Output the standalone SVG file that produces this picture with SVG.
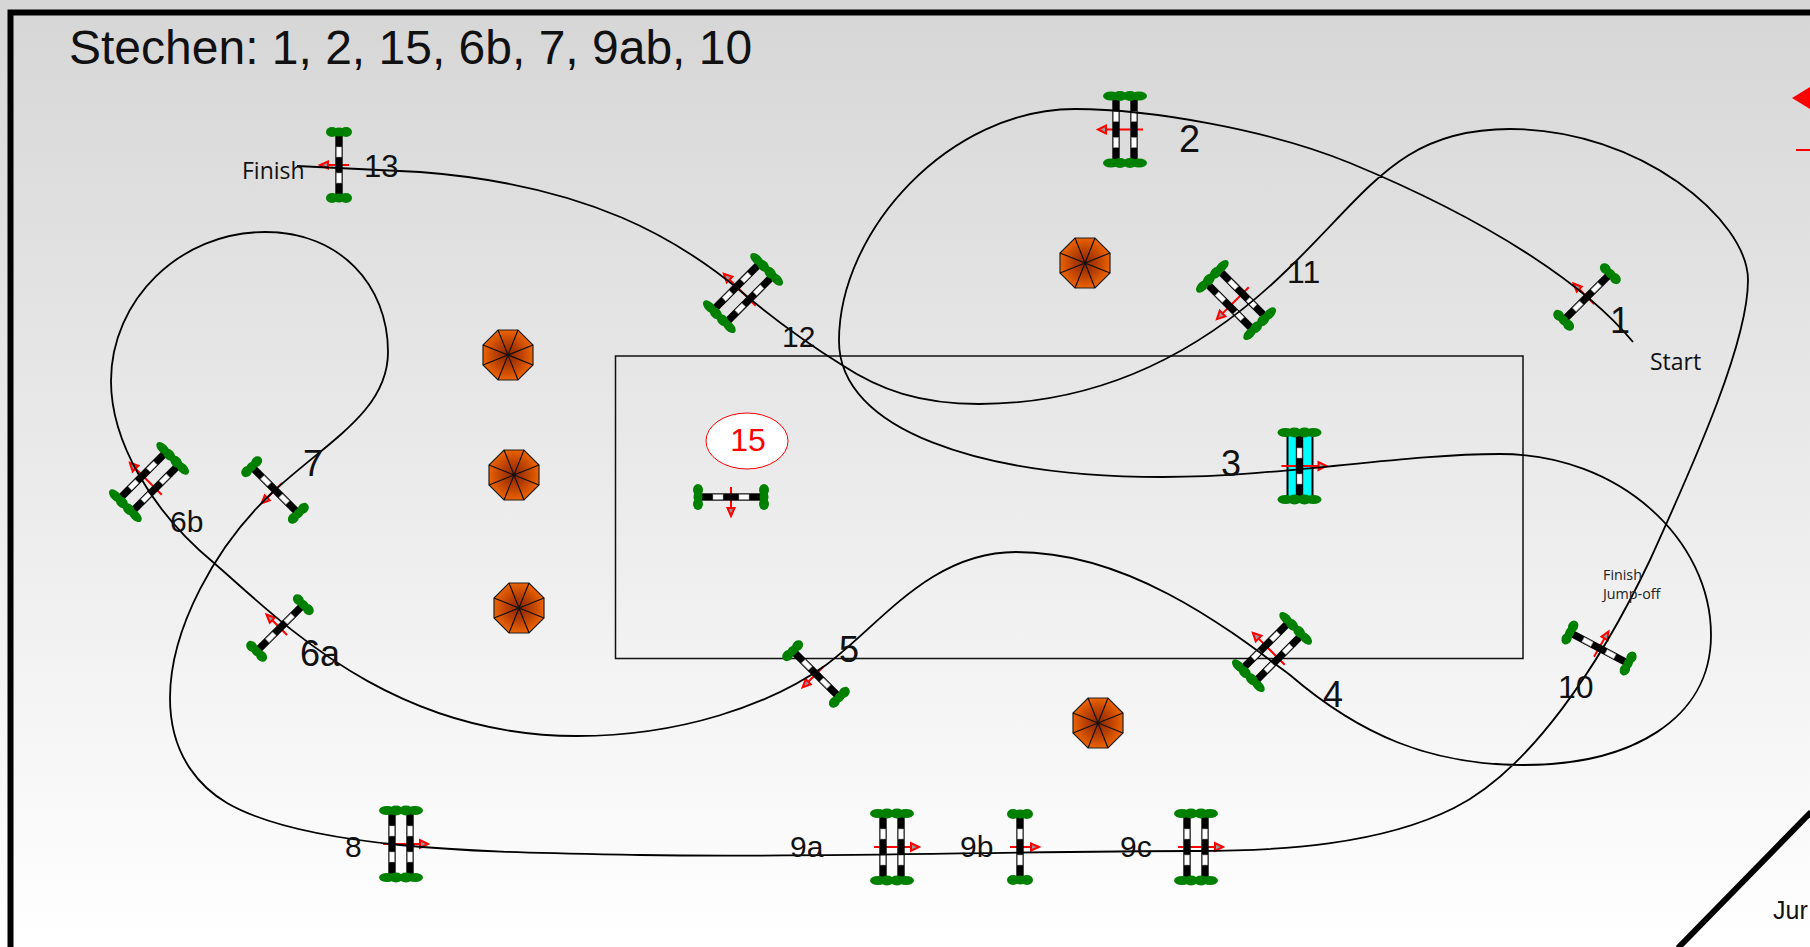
<svg xmlns="http://www.w3.org/2000/svg" xmlns:xlink="http://www.w3.org/1999/xlink" width="1810" height="947" viewBox="0 0 1810 947">
<style>
.num{font-family:"Liberation Sans",Arial,sans-serif;font-size:36px;fill:#111}
.sm{font-family:"Open Sans","Noto Sans",sans-serif;font-size:23px;fill:#111}
.xs{font-family:"Open Sans","Noto Sans",sans-serif;font-size:14.300px;fill:#222}
.bl{fill:#008000}
.ar{stroke:#f00;stroke-width:2;fill:none}
.hd{stroke:#f00;stroke-width:2;fill:#999}
.sp{stroke:#111;stroke-width:1.200;fill:none}
</style>
<defs>
<linearGradient id="bg" x1="0" y1="0" x2="0" y2="1"><stop offset="0" stop-color="#d6d6d6"/><stop offset="1" stop-color="#ffffff"/></linearGradient>
<radialGradient id="oct"><stop offset="0" stop-color="#8a2400"/><stop offset="0.5" stop-color="#b84000"/><stop offset="1" stop-color="#ec6200"/></radialGradient>
<g id="bar"><rect x="-3.700" y="-31" width="7.400" height="62" fill="#000"/><rect x="-2.500" y="-18" width="5" height="10" fill="#fff" stroke="#999" stroke-width=".6"/><rect x="-2.500" y="8" width="5" height="10" fill="#fff" stroke="#999" stroke-width=".6"/></g>
<g id="blobS" class="bl"><ellipse cx="-7" cy="0" rx="6" ry="5"/><ellipse cx="0" cy="0" rx="6" ry="4.500"/><ellipse cx="7" cy="0" rx="6" ry="5"/></g>
<g id="blobD" class="bl"><ellipse cx="-14" cy="0" rx="8" ry="4.500"/><ellipse cx="-5" cy="0" rx="7" ry="5"/><ellipse cx="5" cy="0" rx="7" ry="5"/><ellipse cx="14" cy="0" rx="8" ry="4.500"/></g>
<g id="arS"><path class="ar" d="M-10 0H12"/><path class="hd" d="M19 0L11 -3.500V3.500Z"/></g>
<g id="arD"><path class="ar" d="M-18 0H20"/><path class="hd" d="M27 0L19 -4V4Z"/></g>
<g id="single"><use href="#bar"/><use href="#blobS" y="-33"/><use href="#blobS" y="33"/></g>
<g id="double"><use href="#bar" x="-9"/><use href="#bar" x="9"/><use href="#blobD" y="-33.500"/><use href="#blobD" y="33.500"/></g>
<g id="octagon"><path d="M-10 -25H10L25 -10V10L10 25H-10L-25 10V-10Z" fill="url(#oct)" stroke="#222" stroke-width="1.200"/><path class="sp" d="M-10 -25L10 25M10 -25L-10 25M-25 -10L25 10M25 -10L-25 10"/></g>
</defs>
<rect id="background" width="1810" height="947" fill="url(#bg)"/>
<path id="frame" d="M10.500 947V12.500H1810" fill="none" stroke="#000" stroke-width="6"/>
<path id="corner" d="M1678 948L1811 812" fill="none" stroke="#000" stroke-width="6"/>
<rect id="ring" x="615.500" y="356" width="907.500" height="302.500" fill="none" stroke="#111" stroke-width="1.500"/>
<g id="jumps">
<g id="jump-1" transform="translate(1587 297)"><use href="#arS" transform="rotate(225)"/><use href="#single" transform="rotate(45)"/></g>
<g id="jump-2" transform="translate(1125 129.500)"><use href="#arD" transform="rotate(180)"/><use href="#double"/></g>
<g id="jump-3" transform="translate(1299.500 466)"><rect x="-12" y="-31" width="25" height="62" fill="#0ff" stroke="#000" stroke-width="2"/><use href="#arD"/><use href="#bar"/><use href="#blobD" y="-33.500"/><use href="#blobD" y="33.500"/></g>
<g id="jump-4" transform="translate(1272 652)"><use href="#arD" transform="rotate(225)"/><use href="#double" transform="rotate(45)"/></g>
<g id="jump-5" transform="translate(816 674)"><use href="#arS" transform="rotate(135)"/><use href="#single" transform="rotate(-45)"/></g>
<g id="jump-6a" transform="translate(280 628)"><use href="#arS" transform="rotate(225)"/><use href="#single" transform="rotate(45)"/></g>
<g id="jump-6b" transform="translate(149 482)"><use href="#arD" transform="rotate(225)"/><use href="#double" transform="rotate(45)"/></g>
<g id="jump-7" transform="translate(275 490)"><use href="#arS" transform="rotate(135)"/><use href="#single" transform="rotate(-45)"/></g>
<g id="jump-8" transform="translate(401 844)"><use href="#arD"/><use href="#double"/></g>
<g id="jump-9a" transform="translate(892 847)"><use href="#arD"/><use href="#double"/></g>
<g id="jump-9b" transform="translate(1020 847)"><use href="#arS"/><use href="#single"/></g>
<g id="jump-9c" transform="translate(1196 847)"><use href="#arD"/><use href="#double"/></g>
<g id="jump-10" transform="translate(1599 648)"><use href="#arS" transform="rotate(300)"/><use href="#single" transform="rotate(-62)"/></g>
<g id="jump-11" transform="translate(1236 300)"><use href="#arD" transform="rotate(135)"/><use href="#double" transform="rotate(-45)"/></g>
<g id="jump-12" transform="translate(743 293)"><use href="#arD" transform="rotate(225)"/><use href="#double" transform="rotate(45)"/></g>
<g id="jump-13" transform="translate(339 165)"><use href="#arS" transform="rotate(180)"/><use href="#single"/></g>
<g id="jump-15" transform="translate(731 497)"><use href="#arS" transform="rotate(90)"/><use href="#single" transform="rotate(90)"/></g>
</g>
<g id="obstacles">
<use id="oct-1" href="#octagon" x="1085" y="263"/>
<use id="oct-2" href="#octagon" x="508" y="355"/>
<use id="oct-3" href="#octagon" x="514" y="475"/>
<use id="oct-4" href="#octagon" x="519" y="608"/>
<use id="oct-5" href="#octagon" x="1098" y="723"/>
</g>
<g id="connectors"><path id="course" fill="none" stroke="#000" stroke-width="1.800" d="M1633 342C1590 290 1500 225 1350 163C1270 130 1150 109 1075 109C950 109 839 230 839 341C839 430 980 477 1163 477C1280 477 1400 454 1500 454C1620 454 1711 540 1711 635C1711 720 1630 765 1524 765C1430 765 1360 735 1290 675C1230 630 1130 552 1016 552C930 552 880 625 826 665C770 705 680 736 577 736C390 736 280 620 214 563C150 510 111 440 111 381C111 300 180 232 265 232C340 232 388 285 388 352C388 410 330 440 275 490C215 545 170 630 170 698C170 760 205 790 227 803C265 825 330 838 400 845C470 852 540 853 640 855C830 858 1000 851 1196 851C1280 851 1380 845 1454 808C1530 770 1600 665 1650 560C1700 450 1748 340 1748 280C1748 220 1640 129 1510 129C1400 129 1370 190 1287 270C1210 345 1110 404 979 404C920 404 880 390 842 365C810 345 775 320 743 293C680 240 590 185 420 172L297 166"/></g>
<g id="legend"><path d="M1792 98L1810 87V109Z" fill="#f00"/><path d="M1796 150H1810" stroke="#f00" stroke-width="2"/></g>
<g id="ellipse-15"><ellipse cx="747" cy="441" rx="41" ry="28" fill="#fff" stroke="#f00" stroke-width="1"/><text x="748" y="451" text-anchor="middle" font-family="Liberation Sans,Arial,sans-serif" font-size="32" fill="#f00">15</text></g>
<g id="labels">
<text x="69" y="64" font-family="Liberation Sans,Arial,sans-serif" font-size="48" fill="#111">Stechen: 1, 2, 15, 6b, 7, 9ab, 10</text>
<text class="num" x="364" y="177" style="font-size:31px">13</text>
<text class="num" x="1179" y="152" style="font-size:38px">2</text>
<text class="num" x="1287" y="283" style="font-size:32px">11</text>
<text class="num" x="1610" y="333">1</text>
<text class="num" x="782" y="347" style="font-size:30px">12</text>
<text class="num" x="1221" y="476">3</text>
<text class="num" x="303" y="476">7</text>
<text class="num" x="170" y="532" style="font-size:30px">6b</text>
<text class="num" x="300" y="666">6a</text>
<text class="num" x="839" y="662">5</text>
<text class="num" x="1323" y="707">4</text>
<text class="num" x="1558" y="698" style="font-size:32px">10</text>
<text class="num" x="345" y="857" style="font-size:30px">8</text>
<text class="num" x="790" y="857" style="font-size:30px">9a</text>
<text class="num" x="960" y="857" style="font-size:30px">9b</text>
<text class="num" x="1120" y="857" style="font-size:30px">9c</text>
<text class="sm" x="242" y="179">Finish</text>
<text class="sm" x="1650" y="370">Start</text>
<text class="xs" x="1603" y="580">Finish</text>
<text class="xs" x="1603" y="599">Jump-off</text>
<text x="1773" y="919" font-family="Liberation Sans,Arial,sans-serif" font-size="25" fill="#111">Jur</text>
</g>
</svg>
